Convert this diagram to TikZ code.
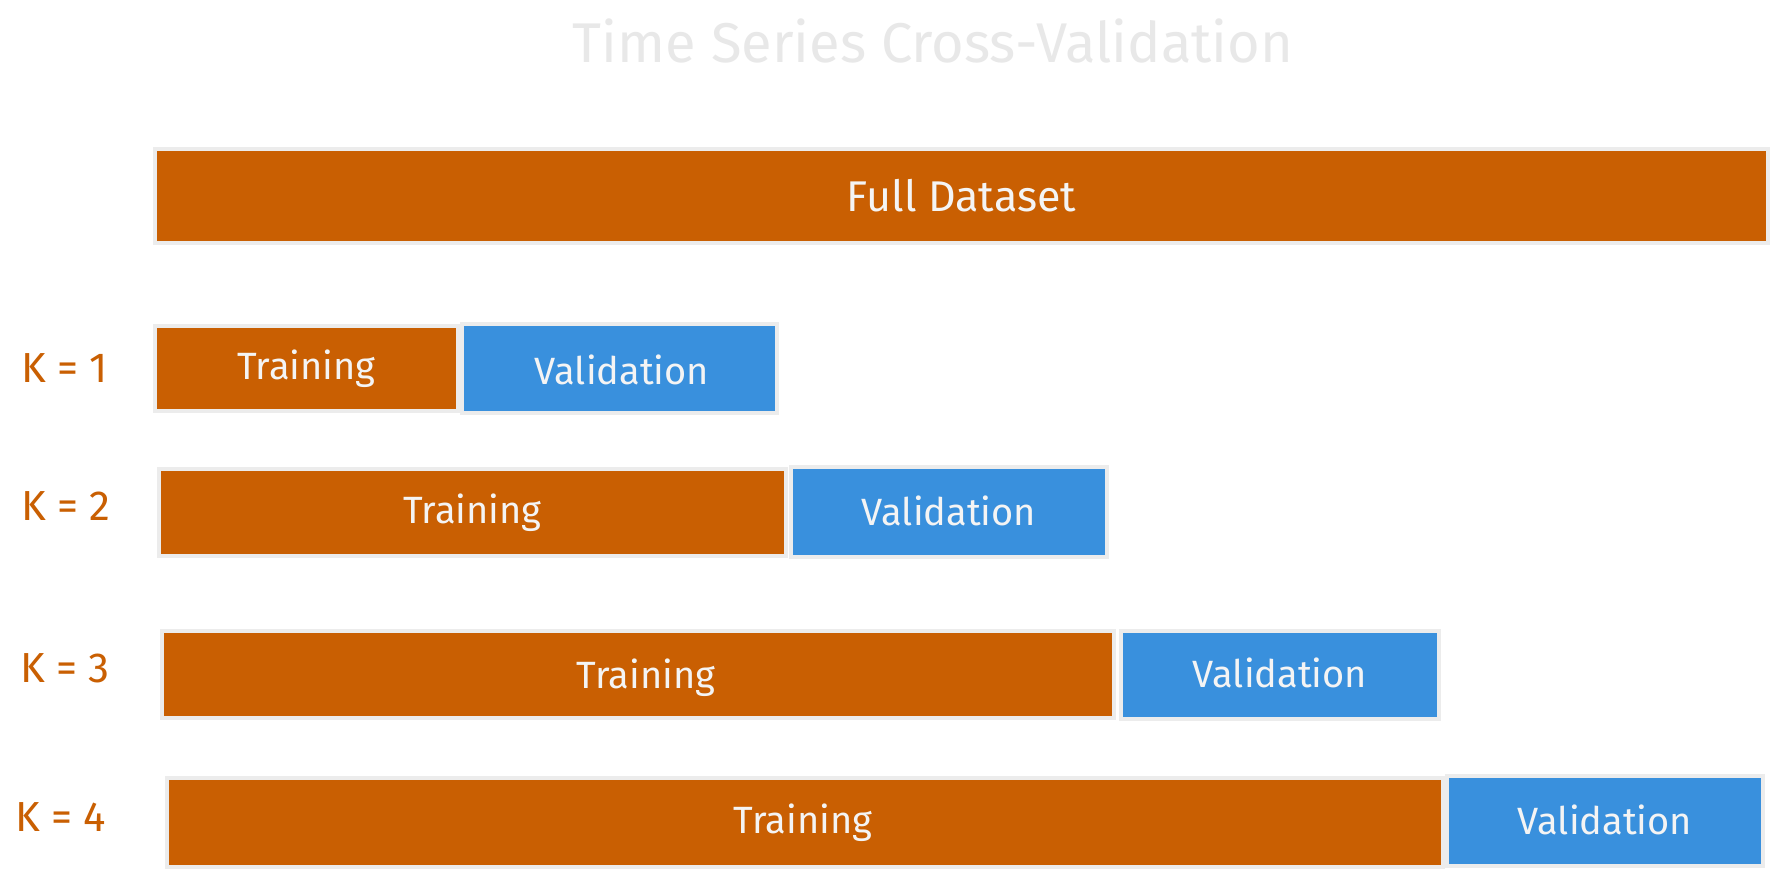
\documentclass[tikz,border=0pt]{standalone}
\usepackage{fontspec}
\setmainfont{Fira Sans}
\definecolor{trainorange}{HTML}{C95F02}
\definecolor{valblue}{HTML}{3990DD}
\definecolor{edgegray}{HTML}{ECECEC}
\definecolor{titlegray}{HTML}{E8E8E8}
\definecolor{textwhite}{HTML}{F4F4F4}
\tikzset{
  trainbox/.style={fill=trainorange, draw=edgegray, line width=2.2pt},
  valbox/.style={fill=valblue, draw=edgegray, line width=2.2pt},
  boxtext/.style={text=textwhite, font=\fontsize{19}{23}\selectfont},
  foldlabel/.style={text=trainorange, font=\fontsize{21}{25}\selectfont},
}
\begin{document}
\begin{tikzpicture}[x=0.5pt, y=-0.5pt]
            \fill[white] (0, 0) rectangle (1779, 877);
            \useasboundingbox (0, 0) rectangle (1779, 877);

            \node[text=titlegray, font=\fontsize{28}{32}\selectfont] (title) at (933, 41) {Time Series Cross-Validation};

            % Full dataset
            \draw[trainbox] (155, 149) rectangle (1768, 243);
            \node[boxtext, font=\fontsize{21.5}{25}\selectfont] (full) at (961.5, 196) {Full Dataset};

            % K = 1
            \draw[trainbox] (155, 326) rectangle (458, 411);
            \draw[valbox] (462, 324) rectangle (777, 413);
            \node[boxtext] (train1) at (306.5, 368.5) {Training};
            \node[boxtext] (val1) at (622, 370) {Validation};
            \node[foldlabel] (k1) at (65, 368) {K = 1};

            % K = 2
            \draw[trainbox] (159, 469) rectangle (786, 556);
            \draw[valbox] (791, 467) rectangle (1107, 557);
            \node[boxtext] (train2) at (472.5, 512.5) {Training};
            \node[boxtext] (val2) at (949, 511) {Validation};
            \node[foldlabel] (k2) at (66, 506) {K = 2};

            % K = 3
            \draw[trainbox] (162, 631) rectangle (1114, 718);
            \draw[valbox] (1121, 631) rectangle (1439, 719);
            \node[boxtext] (train3) at (646, 678) {Training};
            \node[boxtext] (val3) at (1280, 673) {Validation};
            \node[foldlabel] (k3) at (65, 668) {K = 3};

            % K = 4
            \draw[trainbox] (167, 778) rectangle (1443, 867);
            \draw[valbox] (1447, 776) rectangle (1763, 866);
            \node[boxtext] (train4) at (803, 823) {Training};
            \node[boxtext] (val4) at (1605, 820) {Validation};
            \node[foldlabel] (k4) at (61, 817) {K = 4};
        \end{tikzpicture}
\end{document}
